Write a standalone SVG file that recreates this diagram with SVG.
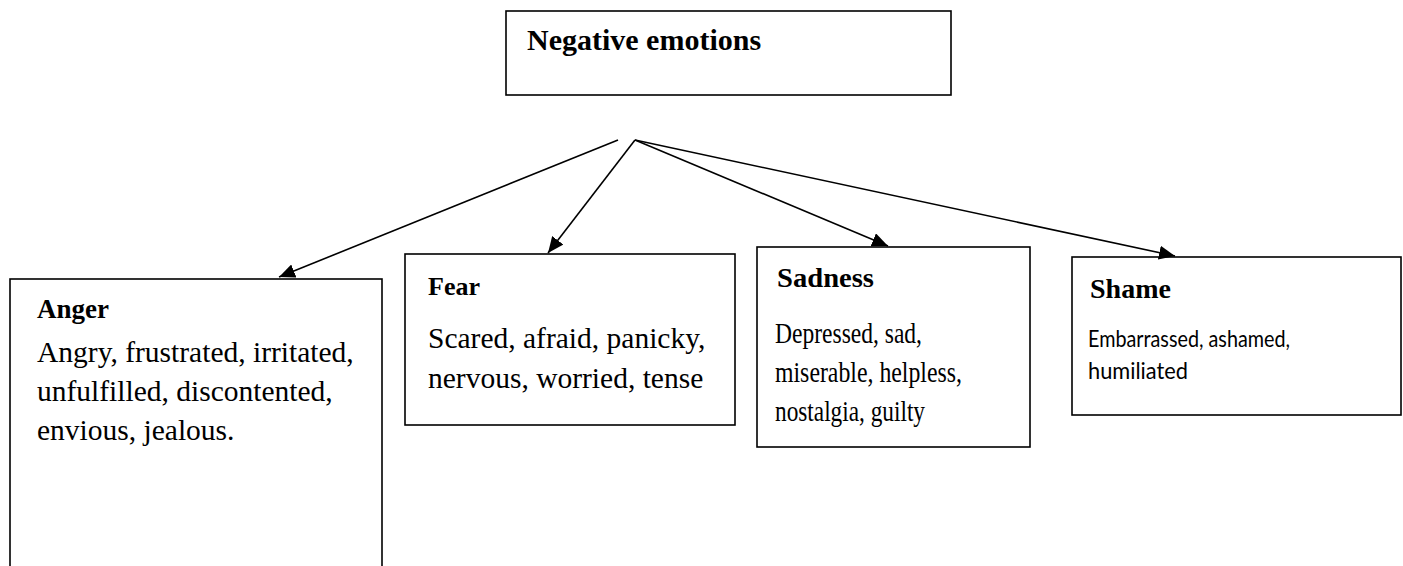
<svg xmlns="http://www.w3.org/2000/svg" width="1403" height="566" viewBox="0 0 1403 566">
<style>
.box{fill:#fff;stroke:#000;stroke-width:1.6}
.t{font-family:"Liberation Serif","Times New Roman",serif;font-weight:bold;fill:#000}
.b{font-family:"Liberation Serif","Times New Roman",serif;fill:#000}
.c{font-family:Lato,"Open Sans",sans-serif;fill:#000}
.ln{stroke:#000;stroke-width:1.6;fill:none}
</style>
<defs>
<marker id="ah" viewBox="0 0 16 14" refX="16" refY="7" markerWidth="16" markerHeight="14" markerUnits="userSpaceOnUse" orient="auto">
<path d="M0,0 L16,7 L0,14 z" fill="#000"/>
</marker>
</defs>
<rect width="1403" height="566" fill="#fff"/>
<g id="negative">
<rect class="box" x="506" y="11" width="445" height="84"/>
<text class="t" x="527" y="50" font-size="30">Negative emotions</text>
</g>
<g id="anger">
<rect class="box" x="10" y="279" width="372" height="320"/>
<text class="t" x="37" y="318" font-size="27">Anger</text>
<text class="b" x="37" y="362" font-size="29.5">Angry, frustrated, irritated,</text>
<text class="b" x="37" y="401" font-size="29.5">unfulfilled, discontented,</text>
<text class="b" x="37" y="440" font-size="29.5">envious, jealous.</text>
</g>
<g id="fear">
<rect class="box" x="405" y="254" width="330" height="171"/>
<text class="t" x="428" y="295" font-size="26">Fear</text>
<text class="b" x="428" y="348" font-size="29.5">Scared, afraid, panicky,</text>
<text class="b" x="428" y="388" font-size="29.5">nervous, worried, tense</text>
</g>
<g id="sadness">
<rect class="box" x="757" y="247" width="273" height="200"/>
<text class="t" x="777" y="287" font-size="28" textLength="97" lengthAdjust="spacingAndGlyphs">Sadness</text>
<text class="b" x="775" y="343" font-size="30" textLength="147" lengthAdjust="spacingAndGlyphs">Depressed, sad,</text>
<text class="b" x="775" y="382" font-size="30" textLength="187" lengthAdjust="spacingAndGlyphs">miserable, helpless,</text>
<text class="b" x="775" y="421" font-size="30" textLength="150" lengthAdjust="spacingAndGlyphs">nostalgia, guilty</text>
</g>
<g id="shame">
<rect class="box" x="1072" y="257" width="329" height="158"/>
<text class="t" x="1090" y="298" font-size="28">Shame</text>
<text class="c" x="1088" y="347" font-size="23" textLength="202" lengthAdjust="spacingAndGlyphs">Embarrassed, ashamed,</text>
<text class="c" x="1088" y="379" font-size="23" textLength="100" lengthAdjust="spacingAndGlyphs">humiliated</text>
</g>
<g id="connectors">
<line class="ln" x1="618" y1="140" x2="279" y2="277" marker-end="url(#ah)"/>
<line class="ln" x1="635" y1="140" x2="548" y2="253" marker-end="url(#ah)"/>
<line class="ln" x1="635" y1="140" x2="888" y2="246" marker-end="url(#ah)"/>
<line class="ln" x1="635" y1="140" x2="1175" y2="256" marker-end="url(#ah)"/>
</g>
</svg>
